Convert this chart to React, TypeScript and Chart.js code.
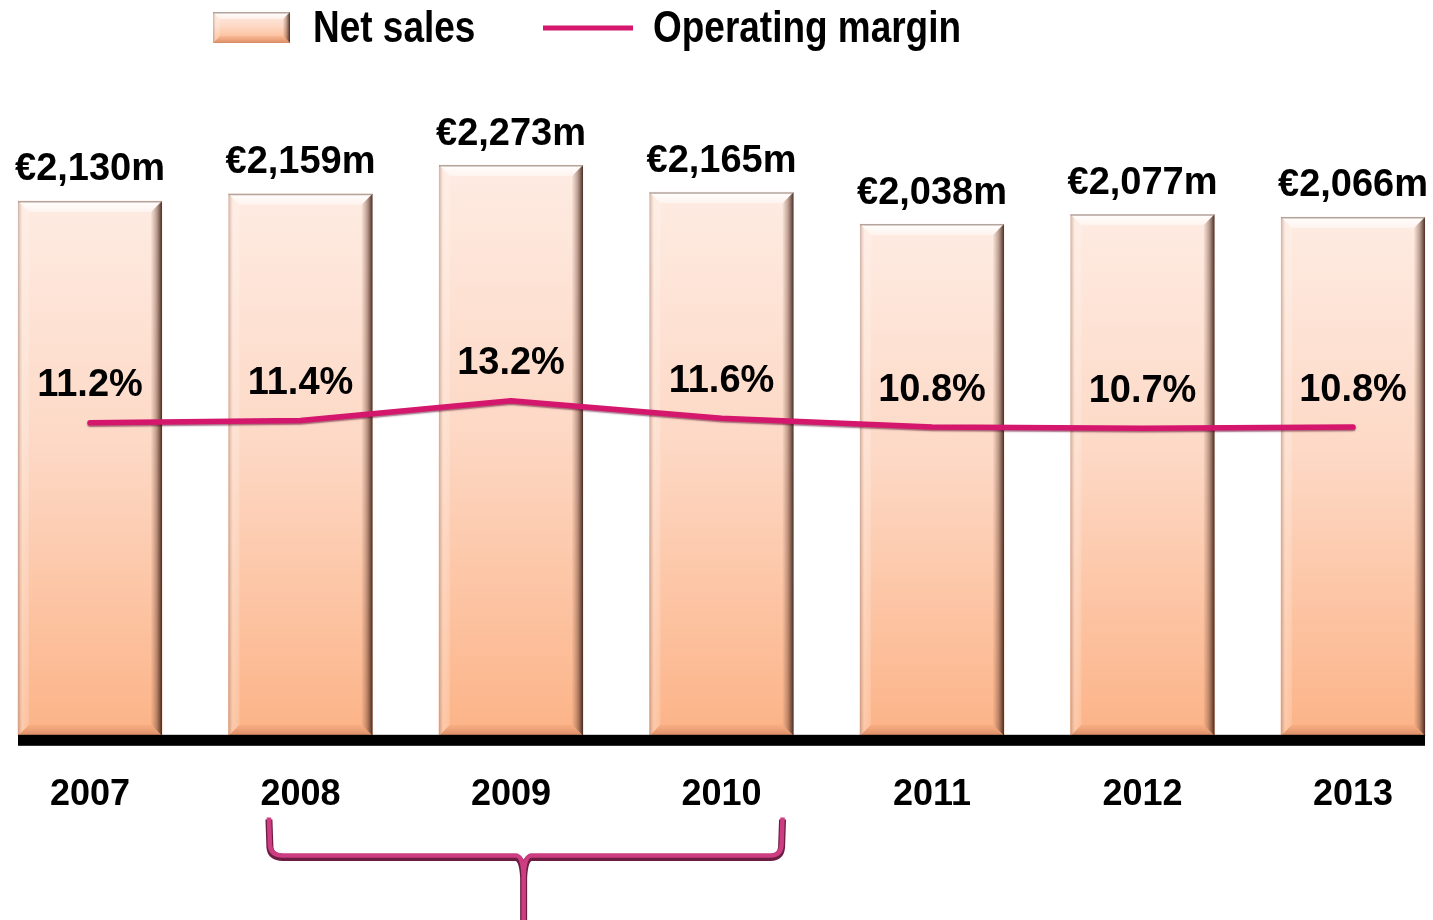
import React, { useEffect, useRef } from 'react';
import { Chart, registerables } from 'chart.js';

Chart.register(...registerables);

const years = ['2007', '2008', '2009', '2010', '2011', '2012', '2013'];
const netSales = [2130, 2159, 2273, 2165, 2038, 2077, 2066];
const operatingMargin = [11.2, 11.4, 13.2, 11.6, 10.8, 10.7, 10.8];
const salesLabels = ['€2,130m', '€2,159m', '€2,273m', '€2,165m', '€2,038m', '€2,077m', '€2,066m'];
const marginLabels = ['11.2%', '11.4%', '13.2%', '11.6%', '10.8%', '10.7%', '10.8%'];
const legendLabels = ['Net sales', 'Operating margin'];
const bracketRange = [0.85, 3.29];
const bracketStem = 2.06;

const FONT = '"Liberation Sans", Arial, sans-serif';
const MAGENTA = '#d4176d';

function barGradient(c: CanvasRenderingContext2D, top: number, bottom: number) {
  const g = c.createLinearGradient(0, top, 0, bottom);
  g.addColorStop(0, '#feebe2');
  g.addColorStop(0.45, '#fdd9c6');
  g.addColorStop(1, '#fcb387');
  return g;
}

function drawBevel(c: CanvasRenderingContext2D, left: number, top: number, right: number, bottom: number, b: number) {
  let g = c.createLinearGradient(0, top, 0, top + b);
  g.addColorStop(0, 'rgba(255,255,255,0.95)');
  g.addColorStop(1, 'rgba(255,255,255,0.45)');
  c.fillStyle = g;
  c.beginPath();
  c.moveTo(left, top); c.lineTo(right, top); c.lineTo(right - b, top + b); c.lineTo(left + b, top + b); c.closePath();
  c.fill();
  g = c.createLinearGradient(left, 0, left + b, 0);
  g.addColorStop(0, 'rgba(170,130,115,0.55)');
  g.addColorStop(0.4, 'rgba(255,240,230,0.35)');
  g.addColorStop(1, 'rgba(255,255,255,0.15)');
  c.fillStyle = g;
  c.beginPath();
  c.moveTo(left, top); c.lineTo(left + b, top + b); c.lineTo(left + b, bottom - b); c.lineTo(left, bottom); c.closePath();
  c.fill();
  g = c.createLinearGradient(right - b, 0, right, 0);
  g.addColorStop(0, 'rgba(140,90,70,0.05)');
  g.addColorStop(0.5, 'rgba(110,70,55,0.45)');
  g.addColorStop(1, 'rgba(60,35,28,0.95)');
  c.fillStyle = g;
  c.beginPath();
  c.moveTo(right, top); c.lineTo(right, bottom); c.lineTo(right - b, bottom - b); c.lineTo(right - b, top + b); c.closePath();
  c.fill();
  g = c.createLinearGradient(0, bottom - b, 0, bottom);
  g.addColorStop(0, 'rgba(220,130,90,0.15)');
  g.addColorStop(1, 'rgba(170,90,60,0.45)');
  c.fillStyle = g;
  c.beginPath();
  c.moveTo(left, bottom); c.lineTo(right, bottom); c.lineTo(right - b, bottom - b); c.lineTo(left + b, bottom - b); c.closePath();
  c.fill();
  c.strokeStyle = 'rgba(150,125,115,0.7)';
  c.lineWidth = 1.5;
  c.beginPath();
  c.moveTo(left, top + 0.75); c.lineTo(right, top + 0.75);
  c.stroke();
}

const decorPlugin = {
  id: 'decor',
  beforeDatasetDraw(chart: any, args: any) {
    if (args.index === 1) {
      const c = chart.ctx;
      c.save();
      c.shadowColor = 'rgba(90,0,40,0.55)';
      c.shadowOffsetY = 1.5;
      c.shadowBlur = 1.5;
    }
  },
  afterDatasetDraw(chart: any, args: any) {
    const c = chart.ctx;
    if (args.index === 1) {
      c.restore();
      return;
    }
    if (args.index === 0) {
      const meta = chart.getDatasetMeta(0);
      c.save();
      meta.data.forEach((el: any) => {
        const w = el.width;
        drawBevel(c, el.x - w / 2, el.y, el.x + w / 2, el.base, 11);
      });
      const first = meta.data[0];
      const last = meta.data[meta.data.length - 1];
      c.fillStyle = '#000';
      c.fillRect(first.x - first.width / 2, first.base - 1, last.x + last.width / 2 - (first.x - first.width / 2), 11);
      c.restore();
    }
  },
  afterDatasetsDraw(chart: any) {
    const c = chart.ctx;
    c.save();
    c.fillStyle = '#000';
    c.textAlign = 'center';
    c.textBaseline = 'middle';
    c.font = `bold 38px ${FONT}`;
    const barMeta = chart.getDatasetMeta(0);
    barMeta.data.forEach((el: any, i: number) => {
      c.fillText(salesLabels[i], el.x, el.y - 31);
    });
    const lineMeta = chart.getDatasetMeta(1);
    lineMeta.data.forEach((el: any, i: number) => {
      c.fillText(marginLabels[i], el.x, el.y - 37);
    });
    c.restore();

    const xs = chart.scales.x;
    const xl = xs.getPixelForValue(bracketRange[0]);
    const xr = xs.getPixelForValue(bracketRange[1]);
    const xm = xs.getPixelForValue(bracketStem);
    const yTop = 818;
    const yMid = 856;
    const path = () => {
      c.beginPath();
      c.moveTo(xl, yTop);
      c.lineTo(xl + 1, yMid - 10);
      c.quadraticCurveTo(xl + 2, yMid, xl + 14, yMid);
      c.lineTo(xm - 8, yMid);
      c.quadraticCurveTo(xm - 1, yMid, xm, yMid + 20);
      c.lineTo(xm, 925);
      c.moveTo(xm, yMid + 20);
      c.quadraticCurveTo(xm + 1, yMid, xm + 8, yMid);
      c.lineTo(xr - 12, yMid);
      c.quadraticCurveTo(xr - 2, yMid, xr - 1, yMid - 10);
      c.lineTo(xr, yTop);
    };
    c.save();
    c.lineCap = 'butt';
    c.lineJoin = 'round';
    c.translate(0, 1.5);
    path();
    c.strokeStyle = '#6e1d42';
    c.lineWidth = 7;
    c.stroke();
    c.translate(0, -2);
    path();
    c.strokeStyle = '#cc3d82';
    c.lineWidth = 4.5;
    c.stroke();
    c.restore();
  },
  afterDraw(chart: any) {
    const c = chart.ctx;
    c.save();
    const l = 213, t = 12, r = 290, btm = 43;
    c.fillStyle = barGradient(c, t, btm);
    c.fillRect(l, t, r - l, btm - t);
    drawBevel(c, l, t, r, btm, 7);
    c.strokeStyle = MAGENTA;
    c.lineWidth = 5;
    c.beginPath();
    c.moveTo(543, 28);
    c.lineTo(633, 28);
    c.stroke();
    c.fillStyle = '#000';
    c.textBaseline = 'middle';
    c.textAlign = 'left';
    c.font = `bold 44px ${FONT}`;
    const sx = 0.84;
    c.save();
    c.translate(313, 30);
    c.scale(sx, 1);
    c.fillText(legendLabels[0], 0, 0);
    c.restore();
    c.save();
    c.translate(653, 30);
    c.scale(sx, 1);
    c.fillText(legendLabels[1], 0, 0);
    c.restore();
    c.restore();
  },
};

export default function App() {
  const ref = useRef<HTMLCanvasElement | null>(null);
  useEffect(() => {
    document.body.style.margin = '0';
    const canvas = ref.current;
    if (!canvas) return;
    const topPad = 100;
    const baseY = 733;
    const yMax = (baseY - topPad) / 0.25;
    const y2Min = -17.4;
    const y2Max = y2Min + (baseY - topPad) / 10.9;
    const chart = new Chart(canvas, {
      type: 'bar',
      data: {
        datasets: [
          {
            type: 'bar',
            label: legendLabels[0],
            data: netSales.map((v, i) => ({ x: i, y: v })),
            yAxisID: 'y',
            order: 1,
            barThickness: 144,
            borderWidth: 0,
            backgroundColor: (ctx: any) => {
              const ch = ctx.chart;
              const v = ctx.raw ? ctx.raw.y : 0;
              const ys = ch.scales.y;
              if (!ys || !ch.chartArea) return '#fdd0b5';
              return barGradient(ch.ctx, ys.getPixelForValue(v), ys.getPixelForValue(0));
            },
          } as any,
          {
            type: 'line',
            label: legendLabels[1],
            data: operatingMargin.map((v, i) => ({ x: i, y: v })),
            yAxisID: 'y2',
            order: 0,
            borderColor: MAGENTA,
            borderWidth: 5.5,
            pointRadius: 0,
            tension: 0,
            borderCapStyle: 'round',
            borderJoinStyle: 'round',
          } as any,
        ],
      },
      options: {
        responsive: false,
        animation: false,
        layout: { padding: { top: topPad, left: 0, right: 0, bottom: 65 } },
        plugins: { legend: { display: false }, tooltip: { enabled: false } },
        scales: {
          x: {
            type: 'linear',
            offset: false,
            min: -0.4276,
            max: 6.38,
            grid: { display: false, drawTicks: false, offset: false },
            border: { display: false },
            ticks: {
              stepSize: 1,
              includeBounds: false,
              autoSkip: false,
              maxRotation: 0,
              padding: 38,
              color: '#000',
              font: { family: FONT, size: 36, weight: 'bold' },
              callback: (v: any) => (Number.isInteger(v) && years[v] ? years[v] : ''),
            },
          },
          y: { display: false, min: 0, max: yMax },
          y2: { display: false, min: y2Min, max: y2Max, position: 'right' },
        },
      } as any,
      plugins: [decorPlugin],
    });
    return () => chart.destroy();
  }, []);
  return (
    <div style={{ width: 1433, height: 920, background: '#fff' }}>
      <canvas ref={ref} width={1433} height={920} style={{ display: 'block' }} />
    </div>
  );
}
